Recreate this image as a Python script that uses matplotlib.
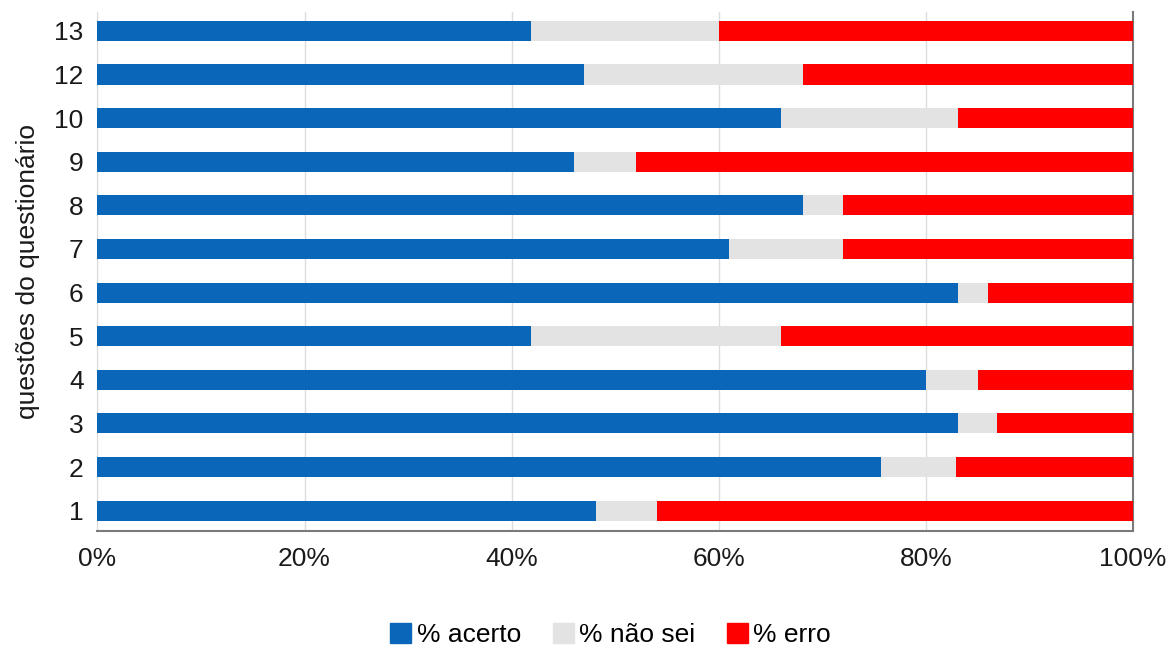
import matplotlib
matplotlib.use('Agg')
import matplotlib.pyplot as plt
from matplotlib.patches import Patch

plt.rcParams['font.family'] = ['Liberation Sans Narrow', 'Liberation Sans', 'DejaVu Sans']

# question numbers (bottom to top) and share of answers in %
questoes = ['1', '2', '3', '4', '5', '6', '7', '8', '9', '10', '12', '13']
acerto = [48.1, 75.7, 83.1, 80.0, 41.9, 83.1, 61.0, 68.1, 46.0, 66.0, 47.0, 41.9]
nao_sei = [5.9, 7.2, 3.8, 5.0, 24.1, 2.9, 11.0, 3.9, 6.0, 17.1, 21.1, 18.1]
erro = [46.0, 17.1, 13.1, 15.0, 34.0, 14.0, 28.0, 28.0, 48.0, 16.9, 31.9, 40.0]

c_acerto = '#0a66b8'
c_nao_sei = '#e3e3e3'
c_erro = '#ff0000'

fig = plt.figure(figsize=(11.74, 6.48), dpi=100)
ax = fig.add_axes([0.083, 0.181, 0.882, 0.801])

pos = range(len(questoes))
left2 = [a + n for a, n in zip(acerto, nao_sei)]
h = 0.46
ax.barh(pos, acerto, height=h, color=c_acerto, zorder=3)
ax.barh(pos, nao_sei, left=acerto, height=h, color=c_nao_sei, zorder=3)
ax.barh(pos, erro, left=left2, height=h, color=c_erro, zorder=3)

ax.set_xlim(0, 100)
ax.set_ylim(-0.46, len(questoes) - 1 + 0.44)
ax.set_xticks([0, 20, 40, 60, 80, 100])
ax.set_xticklabels(['0%', '20%', '40%', '60%', '80%', '100%'])
ax.set_yticks(list(pos))
ax.set_yticklabels(questoes)
ax.tick_params(axis='both', length=0, labelsize=19, colors='#1a1a1a')
ax.tick_params(axis='x', pad=12)
ax.tick_params(axis='y', pad=10)

ax.grid(axis='x', color='#dcdcdc', linewidth=1, zorder=0)
ax.spines['top'].set_visible(False)
ax.spines['left'].set_color('#dcdcdc')
ax.spines['bottom'].set_color('#7a7a7a')
ax.spines['right'].set_color('#7a7a7a')
ax.spines['bottom'].set_linewidth(1.5)
ax.spines['right'].set_linewidth(1.5)

ax.set_ylabel('questões do questionário', fontsize=19, color='#1a1a1a', labelpad=10)

handles = [Patch(color=c_acerto, label='% acerto'),
           Patch(color=c_nao_sei, label='% não sei'),
           Patch(color=c_erro, label='% erro')]
fig.legend(handles=handles, loc='center', bbox_to_anchor=(0.52, 0.02 + 0.0), ncol=3,
           frameon=False, fontsize=19, handlelength=0.8, handleheight=0.8,
           handletextpad=0.2, columnspacing=1.2)

fig.savefig('out.png', dpi=100)
